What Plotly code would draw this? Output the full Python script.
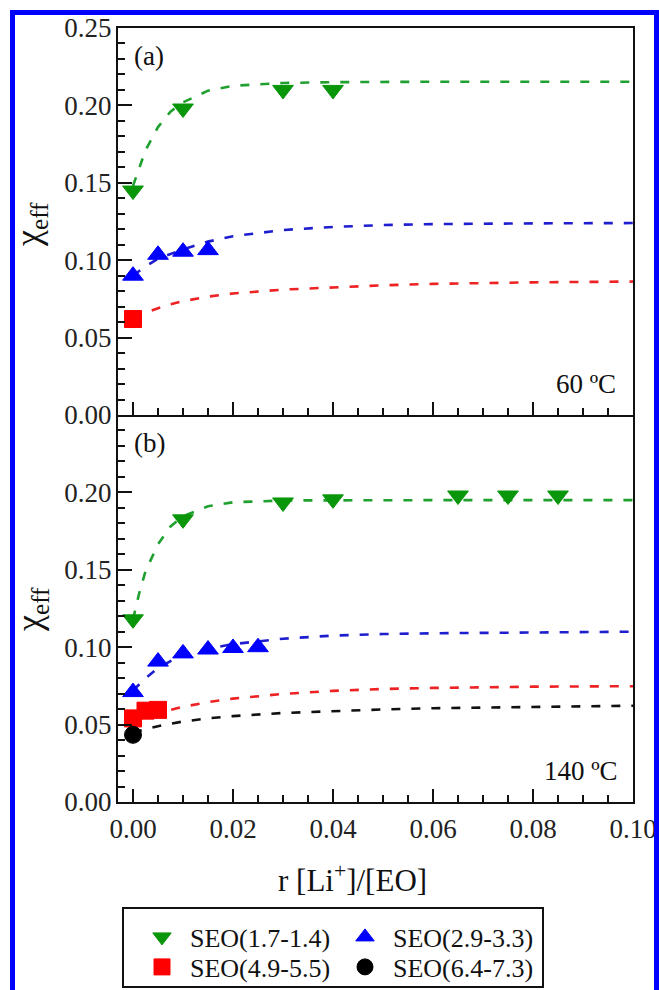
import plotly.graph_objects as go

# ---------------- data ----------------
# fitted (dashed) curves
r_fit = [0, 0.00125, 0.0025, 0.005, 0.0075, 0.01, 0.015, 0.02, 0.03, 0.04, 0.05, 0.06, 0.08, 0.10]

fit_a_green = [0.148, 0.160, 0.171, 0.186, 0.196, 0.202, 0.2095, 0.2127, 0.2145, 0.215, 0.2152, 0.2153, 0.2153, 0.2153]
fit_a_blue = [0.090, 0.093, 0.096, 0.101, 0.104, 0.107, 0.112, 0.1155, 0.1195, 0.1215, 0.1227, 0.1233, 0.1238, 0.124]
fit_a_red = [0.063, 0.0645, 0.066, 0.069, 0.0715, 0.0735, 0.0765, 0.0785, 0.081, 0.0825, 0.0838, 0.0847, 0.0857, 0.0862]

fit_b_green = [0.118, 0.135, 0.149, 0.1665, 0.178, 0.1846, 0.191, 0.1936, 0.1948, 0.195, 0.195, 0.195, 0.195, 0.195]
fit_b_blue = [0.072, 0.076, 0.080, 0.0865, 0.091, 0.0945, 0.099, 0.102, 0.1055, 0.1075, 0.1085, 0.109, 0.1095, 0.110]
fit_b_red = [0.052, 0.0535, 0.055, 0.0575, 0.0595, 0.0615, 0.0645, 0.0668, 0.0698, 0.0718, 0.073, 0.0737, 0.0745, 0.0748]
fit_b_black = [0.045, 0.046, 0.047, 0.049, 0.0505, 0.052, 0.054, 0.0555, 0.0575, 0.0588, 0.0598, 0.0606, 0.0616, 0.0622]

# measured points, panel (a) 60 C
a_green_r = [0, 0.01, 0.03, 0.04]
a_green_chi = [0.145, 0.198, 0.210, 0.210]
a_blue_r = [0, 0.005, 0.01, 0.015]
a_blue_chi = [0.090, 0.1035, 0.1055, 0.1065]
a_red_r = [0]
a_red_chi = [0.062]

# measured points, panel (b) 140 C
b_green_r = [0, 0.01, 0.03, 0.04, 0.065, 0.075, 0.085]
b_green_chi = [0.118, 0.1826, 0.1935, 0.1955, 0.198, 0.198, 0.198]
b_blue_r = [0, 0.005, 0.01, 0.015, 0.02, 0.025]
b_blue_chi = [0.071, 0.0907, 0.096, 0.0985, 0.0995, 0.100]
b_red_r = [0, 0.0025, 0.005]
b_red_chi = [0.054, 0.059, 0.0595]
b_black_r = [0]
b_black_chi = [0.0434]

series_names = ["SEO(1.7-1.4)", "SEO(2.9-3.3)", "SEO(4.9-5.5)", "SEO(6.4-7.3)"]
y_ticks_a = [0, 0.05, 0.10, 0.15, 0.20, 0.25]
y_ticks_b = [0, 0.05, 0.10, 0.15, 0.20]
x_ticks = [0, 0.02, 0.04, 0.06, 0.08, 0.10]

# ---------------- styles ----------------
FONT = "Liberation Serif"
C_GREEN, L_GREEN = "#0a960a", "#1fa02f"
C_BLUE, L_BLUE = "#0000ff", "#1e1ecf"
C_RED, L_RED = "#ff0000", "#ee2222"
C_BLACK, L_BLACK = "#000000", "#111111"
DASH = "9px,11px"

# pixel frame of the plot area (figure is 659 x 990)
PL, PR, PT, PB = 118, 633, 28, 802
PW, PH = PR - PL, PB - PT


def px(xp):
    return (xp - PL) / PW


def py(yp):
    return (PB - yp) / PH


fig = go.Figure()


def add_fit(x, y, color, xa, ya):
    fig.add_trace(go.Scatter(x=x, y=y, mode="lines", line=dict(color=color, width=2.6, dash=DASH),
                             showlegend=False, hoverinfo="skip", xaxis=xa, yaxis=ya))


def add_pts(x, y, color, symbol, size, xa, ya, name, show, leg="legend"):
    fig.add_trace(go.Scatter(x=x, y=y, mode="markers", name=name, showlegend=show, legend=leg,
                             marker=dict(color=color, symbol=symbol, size=size,
                                         line=dict(color=color, width=1)),
                             xaxis=xa, yaxis=ya))


# panel (a) on x2/y2
add_fit(r_fit, fit_a_green, L_GREEN, "x2", "y2")
add_fit(r_fit, fit_a_blue, L_BLUE, "x2", "y2")
add_fit(r_fit, fit_a_red, L_RED, "x2", "y2")
add_pts(a_green_r, a_green_chi, C_GREEN, "triangle-down", 18, "x2", "y2", series_names[0], False)
add_pts(a_blue_r, a_blue_chi, C_BLUE, "triangle-up", 18, "x2", "y2", series_names[1], False)
add_pts(a_red_r, a_red_chi, C_RED, "square", 17, "x2", "y2", series_names[2], False)

# panel (b) on x/y
add_fit(r_fit, fit_b_green, L_GREEN, "x", "y")
add_fit(r_fit, fit_b_blue, L_BLUE, "x", "y")
add_fit(r_fit, fit_b_red, L_RED, "x", "y")
add_fit(r_fit, fit_b_black, L_BLACK, "x", "y")
add_pts(b_green_r, b_green_chi, C_GREEN, "triangle-down", 18, "x", "y", series_names[0], True, "legend")
add_pts(b_blue_r, b_blue_chi, C_BLUE, "triangle-up", 18, "x", "y", series_names[1], True, "legend")
add_pts(b_red_r, b_red_chi, C_RED, "square", 17, "x", "y", series_names[2], True, "legend2")
add_pts(b_black_r, b_black_chi, C_BLACK, "circle", 17, "x", "y", series_names[3], True, "legend2")

tickfont = dict(family=FONT, size=27, color="#222222")

xcommon = dict(range=[-0.003, 0.1], showline=True, linecolor="#111111", linewidth=2,
               ticks="inside", ticklen=13, tickwidth=2, tickcolor="#111111", automargin=False,
               tickvals=x_ticks, tickformat=".2f", tickfont=tickfont, showgrid=False, zeroline=False,
               minor=dict(dtick=0.005, tick0=0, ticks="inside", ticklen=7, tickwidth=2, tickcolor="#111111"))
ycommon = dict(range=[0, 0.25], showline=True, linecolor="#111111", linewidth=2, mirror=True,
               ticks="inside", ticklen=14, tickwidth=2, tickcolor="#111111", automargin=False,
               tickformat=".2f", tickfont=tickfont, showgrid=False, zeroline=False,
               ticklabelstandoff=-1,
               minor=dict(dtick=0.01, tick0=0, ticks="inside", ticklen=7, tickwidth=2, tickcolor="#111111"))

legcommon = dict(orientation="h", xanchor="left", yanchor="middle",
                 entrywidth=142, entrywidthmode="pixels", itemwidth=46,
                 borderwidth=0, bgcolor="rgba(0,0,0,0)",
                 font=dict(family=FONT, size=26, color="#111111"), traceorder="normal")

fig.update_layout(
    width=659, height=990,
    margin=dict(l=PL, r=659 - PR, t=PT, b=990 - PB, autoexpand=False),
    paper_bgcolor="white", plot_bgcolor="white",
    font=dict(family=FONT, color="#111111"),
    # bottom panel: no top mirror line (it is shared with the bottom line of the top panel)
    xaxis=dict(xcommon, domain=[0, 1], anchor="y", ticklabelstandoff=2, mirror=False),
    yaxis=dict(ycommon, domain=[0, 0.5], anchor="x", tickvals=y_ticks_b),
    xaxis2=dict(xcommon, domain=[0, 1], anchor="y2", showticklabels=False, mirror=True),
    yaxis2=dict(ycommon, domain=[0.5, 1], anchor="x2", tickvals=y_ticks_a),
    legend=dict(legcommon, x=px(134), y=py(937)),
    legend2=dict(legcommon, x=px(134), y=py(967)),
)

ann = [
    dict(text="(a)", x=px(132), y=py(56), xanchor="left", size=27),
    dict(text="(b)", x=px(132), y=py(443), xanchor="left", size=27),
    dict(text="60 ºC", x=px(618), y=py(384), xanchor="right", size=27),
    dict(text="140 ºC", x=px(620), y=py(771), xanchor="right", size=27),
    dict(text="r [Li<sup>+</sup>]/[EO]", x=px(352), y=py(878), xanchor="center", size=31),
]
for a in ann:
    fig.add_annotation(text=a["text"], x=a["x"], y=a["y"], xref="paper", yref="paper",
                       xanchor=a["xanchor"], yanchor="middle", showarrow=False,
                       font=dict(family=FONT, size=a["size"], color="#111111"))

for yc in (225, 610):
    fig.add_annotation(text="χ<sub>eff</sub>", x=px(31), y=py(yc), xref="paper", yref="paper",
                       xanchor="center", yanchor="middle", textangle=-90, showarrow=False,
                       font=dict(family=FONT, size=36, color="#111111"))

# legend frame
fig.add_shape(type="rect", xref="paper", yref="paper",
              x0=px(123), x1=px(543), y0=py(987), y1=py(908),
              line=dict(color="#111111", width=2), fillcolor="rgba(0,0,0,0)", layer="above")

# blue frame around the figure
fig.add_shape(type="rect", xref="paper", yref="paper",
              x0=px(12.5), x1=px(656.5), y0=py(1010), y1=py(12.5),
              line=dict(color="#0000ff", width=5), fillcolor="rgba(0,0,0,0)", layer="above")

fig.write_html("out.html")
